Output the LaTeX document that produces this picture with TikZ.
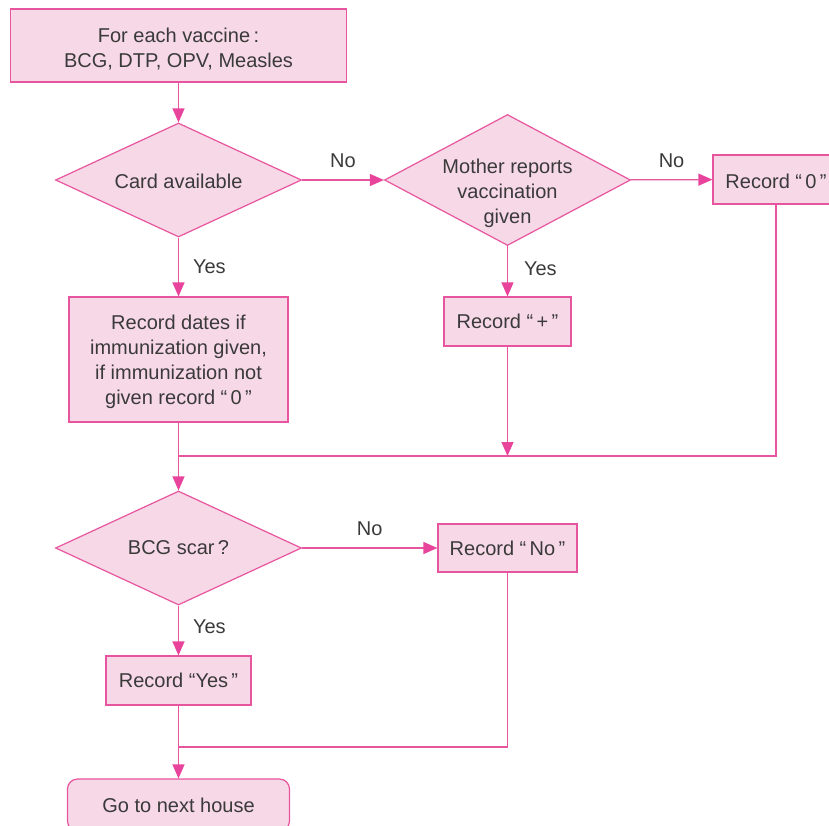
\documentclass[tikz,border=0pt]{standalone}
\usepackage{fontspec}
\setmainfont{Liberation Sans}
\usetikzlibrary{shapes.geometric,arrows.meta}
\definecolor{pinkfill}{HTML}{F7D8E6}
\definecolor{pinkline}{HTML}{E8559F}
\definecolor{pinkarrow}{HTML}{E8449B}
\definecolor{txtgray}{HTML}{3A3A3A}
\begin{document}
\begin{tikzpicture}[x=1pt,y=-1pt,
  box/.style={draw=pinkline,fill=pinkfill,line width=1.2pt,inner sep=0pt,text=txtgray,align=center,font=\fontsize{20}{25}\selectfont},
  rbox/.style={box,rounded corners=10pt},
  dia/.style={diamond,draw=pinkline,fill=pinkfill,line width=1.2pt,inner sep=0pt},
  txt/.style={text=txtgray,align=center,inner sep=0pt,font=\fontsize{20}{25}\selectfont},
  lbl/.style={text=txtgray,inner sep=0pt,font=\fontsize{20}{25}\selectfont},
  conn/.style={draw=pinkline,line width=1.2pt},
  arr/.style={conn,-{Triangle[length=14pt,width=12pt,color=pinkarrow,fill=pinkarrow]}}]
\useasboundingbox (0,0) rectangle (829,825);

% nodes
\node[box,minimum width=336pt,minimum height=73pt] (start) at (178.5,45.5) {};
\node[txt] (startt) at (178.5,49) {For each vaccine\,:\\BCG, DTP, OPV, Measles};
\node[dia,minimum width=246pt,minimum height=114pt] (d1) at (178.5,180) {};
\node[txt] (d1t) at (178.5,181) {Card available};
\node[dia,minimum width=246pt,minimum height=131pt] (d2) at (507.5,180) {};
\node[txt] (d2t) at (507.5,193) {Mother reports\\vaccination\\given};
\node[box,minimum width=126pt,minimum height=49pt] (rec0) at (776,179.5) {};
\node[txt] (rec0t) at (776,181) {Record “\,0\,”};
\node[box,minimum width=219pt,minimum height=125pt] (recdates) at (178.5,359.5) {};
\node[txt] (recdatest) at (178.5,362) {Record dates if\\immunization given,\\if immunization not\\given record “\,0\,”};
\node[box,minimum width=127pt,minimum height=49pt] (recplus) at (507.5,321.5) {Record “\,+\,”};
\node[dia,minimum width=246pt,minimum height=114pt] (d3) at (178.5,548) {};
\node[txt] (d3t) at (d3) {BCG scar\,?};
\node[box,minimum width=139pt,minimum height=48pt] (recno) at (507.5,548) {Record “\,No\,”};
\node[box,minimum width=145pt,minimum height=49pt] (recyes) at (178.5,680.5) {Record “Yes\,”};
\node[rbox,minimum width=222pt,minimum height=52pt] (next) at (178.5,805) {Go to next house};

\coordinate (j1) at (178.5,456);
\coordinate (j2) at (178.5,747);

% connectors
\draw[arr] (start) -- (d1);
\draw[arr] (d1) -- node[lbl,midway,yshift=19pt] (no1) {No} (d2);
\draw[arr] (d2) -- node[lbl,midway,yshift=19pt] (no2) {No} (rec0);
\draw[arr] (d1) -- node[lbl,midway,anchor=west,xshift=14pt] (yes1) {Yes} (recdates);
\draw[arr] (d2) -- node[lbl,midway,anchor=west,xshift=16pt,yshift=3pt] (yes2) {Yes} (recplus);
\draw[arr] (recplus) -- (recplus |- j1);
\draw[conn] (rec0) |- (j1);
\draw[arr] (recdates) -- (d3);
\draw[arr] (d3) -- node[lbl,midway,yshift=19pt] (no3) {No} (recno);
\draw[arr] (d3) -- node[lbl,midway,anchor=west,xshift=14pt,yshift=4pt] (yes3) {Yes} (recyes);
\draw[conn] (recno) |- (j2);
\draw[arr] (recyes) -- (next);
\end{tikzpicture}
\end{document}
